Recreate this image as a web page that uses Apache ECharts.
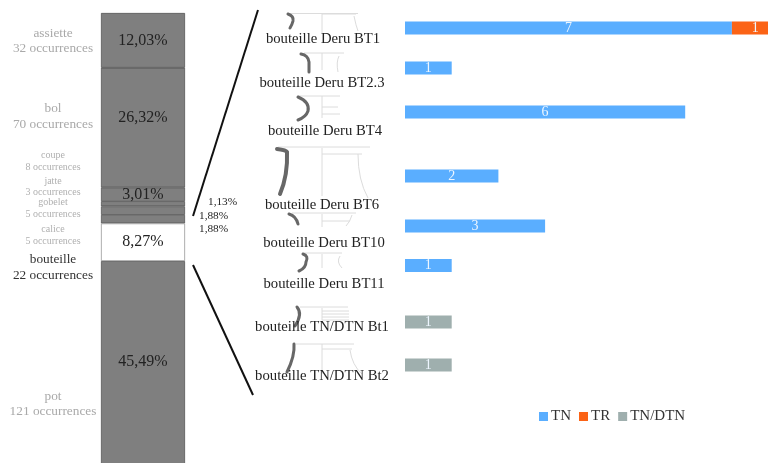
<!DOCTYPE html>
<html><head><meta charset="utf-8">
<style>html,body{margin:0;padding:0;background:#fff;overflow:hidden;width:768px;height:463px}#c{width:800px;height:480px}</style>
<script src="https://cdn.jsdelivr.net/npm/echarts@6/dist/echarts.min.js"></script>
</head><body><div id="c"></div>
<script>
// Left column
const shapes = ['assiette','bol','coupe','jatte','gobelet','calice','bouteille','pot'];
const shapeCounts = [32,70,8,3,5,5,22,121];
const shapeShares = [12.03,26.32,3.01,1.13,1.88,1.88,8.27,45.49];
// Right bars
const types = ['bouteille Deru BT1','bouteille Deru BT2.3','bouteille Deru BT4','bouteille Deru BT6','bouteille Deru BT10','bouteille Deru BT11','bouteille TN/DTN Bt1','bouteille TN/DTN Bt2'];
const tnValues = [7,1,6,2,3,1,null,null];
const trValues = [1,null,null,null,null,null,null,null];
const tnDtnValues = [null,null,null,null,null,null,1,1];

const SERIF = '"Liberation Serif","DejaVu Serif",serif';
const fmtPct = v => v.toFixed(2).replace('.', ',') + '%';

// Layout, separate from the data
const rowCentres = [28,68,112,176,226,265.5,322,365];
const typeLabelY = [39,83,131,205,243,284,327,376];
const typeLabelX = [323,322,325,322,324,324,322,322];
const leftText = [
  [0,34,49,13.3,'#a9a9a9'],[1,109,125,13.3,'#a9a9a9'],[2,155,167,10,'#b0b0b0'],[3,181,192,10,'#b0b0b0'],
  [4,202,214,10,'#b0b0b0'],[5,229,241,10,'#b0b0b0'],[6,260,276,13.3,'#333'],[7,397,412,13.3,'#a9a9a9']
];
const labelOffsets = [[0,0],[0,-10],[0,0],[18,-2],[9,5],[9,10],[0,0],[0,-3]];

const series = [], grid = [], xAxis = [], yAxis = [];
// left stacked column
grid.push({left:101,top:13,width:84,height:455});
xAxis.push({type:'category',data:['formes'],show:false,gridIndex:0});
yAxis.push({type:'value',min:0,max:100,inverse:true,show:false,gridIndex:0});
shapes.forEach((s,i)=>{
  const small = i>=3 && i<=5;
  series.push({
    type:'bar',name:s,xAxisIndex:0,yAxisIndex:0,stack:'col',barWidth:'100%',animation:false,
    data:[shapeShares[i]],
    itemStyle:{color:s==='bouteille'?'#fff':'#7f7f7f',borderColor:s==='bouteille'?'#8a8a8a':'#4a4a4a',borderWidth:0.7},
    label:{show:true,position:small?'right':'inside',offset:labelOffsets[i],
      formatter:()=>fmtPct(shapeShares[i]),color:'#222',fontFamily:SERIF,fontSize:small?11.3:16}
  });
});
// right rows
const barLabel = {show:true,position:'inside',color:'#eef6ff',fontFamily:SERIF,fontSize:14};
types.forEach((t,i)=>{
  const g=i+1;
  grid.push({left:405,width:373.6,top:rowCentres[i]-10,height:20});
  xAxis.push({type:'value',min:0,max:8,show:false,gridIndex:g});
  yAxis.push({type:'category',data:[t],show:false,gridIndex:g});
  [['TN',tnValues,'#5aaeff'],['TR',trValues,'#fb6316'],['TN/DTN',tnDtnValues,'#9fafae']].forEach(([n,arr,col])=>{
    series.push({type:'bar',name:n,xAxisIndex:g,yAxisIndex:g,stack:'r'+i,barWidth:13,animation:false,
      data:[arr[i]],itemStyle:{color:col},label:barLabel});
  });
});

// Decorative pottery profiles: [dark profile path, light outline path]
const pots = [
 ['M288 14 Q294 16 293 21 Q292 25 290 28','M290 13.5H358M322 13V33M322 14H356M354 16Q356 26 358 31'],
 ['M301 54 Q308 55 309 62 L309 72','M304 53H344M322 53V70M339 56Q336 62 338 72'],
 ['M298 97 Q310 102 308 111 Q306 117 298 120','M298 96H340M322 96V118M322 114H340M322 107H338'],
 ['M277 149 Q286 150 287 152 Q288 175 280 194','M278 147H370M322 148V196M322 154H362M358 154Q358 180 368 198'],
 ['M289 214 Q296 216 298 224','M292 213H356M322 214V227M322 221H350M352 215Q350 222 346 226'],
 ['M303 254 Q309 256 306 262 Q306 268 299 271','M304 253H342M322 254V268M340 256Q336 262 342 268'],
 ['M297 307 Q303 314 295 326','M300 307H348M322 308V320M322 311H349M322 314H349M322 317H349M322 320H349'],
 ['M294 344 Q295 356 287 372','M296 344H354M322 344V374M322 349H352M350 350Q352 365 362 374']
];
const graphic = [];
pots.forEach(([d,l],i)=>{
  echarts.graphic.registerShape('potLight'+i, echarts.graphic.extendPath(l,{}));
  echarts.graphic.registerShape('potDark'+i, echarts.graphic.extendPath(d,{}));
  graphic.push({type:'potLight'+i,style:{fill:null,stroke:'#dcdcdc',lineWidth:1},silent:true});
  graphic.push({type:'potDark'+i,style:{fill:null,stroke:'#676767',lineWidth:i===3?4:3,lineCap:'round'},silent:true});
});
types.forEach((t,i)=>{
  graphic.push({type:'text',x:typeLabelX[i],y:typeLabelY[i],style:{text:t,align:'center',verticalAlign:'middle',font:'14.7px '+SERIF,fill:'#222'}});
});
leftText.forEach(([i,y1,y2,f,c])=>{
  graphic.push({type:'text',x:53,y:y1,style:{text:shapes[i],align:'center',verticalAlign:'middle',font:f+'px '+SERIF,fill:c}});
  graphic.push({type:'text',x:53,y:y2,style:{text:shapeCounts[i]+' occurrences',align:'center',verticalAlign:'middle',font:f+'px '+SERIF,fill:c}});
});
graphic.push({type:'line',shape:{x1:258,y1:10,x2:193,y2:216},style:{stroke:'#111',lineWidth:2}});
graphic.push({type:'line',shape:{x1:193,y1:265,x2:253,y2:395},style:{stroke:'#111',lineWidth:2}});

const chart = echarts.init(document.getElementById('c'),null,{renderer:'canvas'});
chart.setOption({
  animation:false,backgroundColor:'#fff',
  grid,xAxis,yAxis,series,graphic,
  legend:{data:['TN','TR','TN/DTN'],left:534,top:404,itemWidth:9,itemHeight:9,itemGap:8,icon:'rect',
    textStyle:{fontFamily:SERIF,fontSize:15,color:'#333',padding:[0,0,0,-2]},selectedMode:false}
});
</script></body></html>
